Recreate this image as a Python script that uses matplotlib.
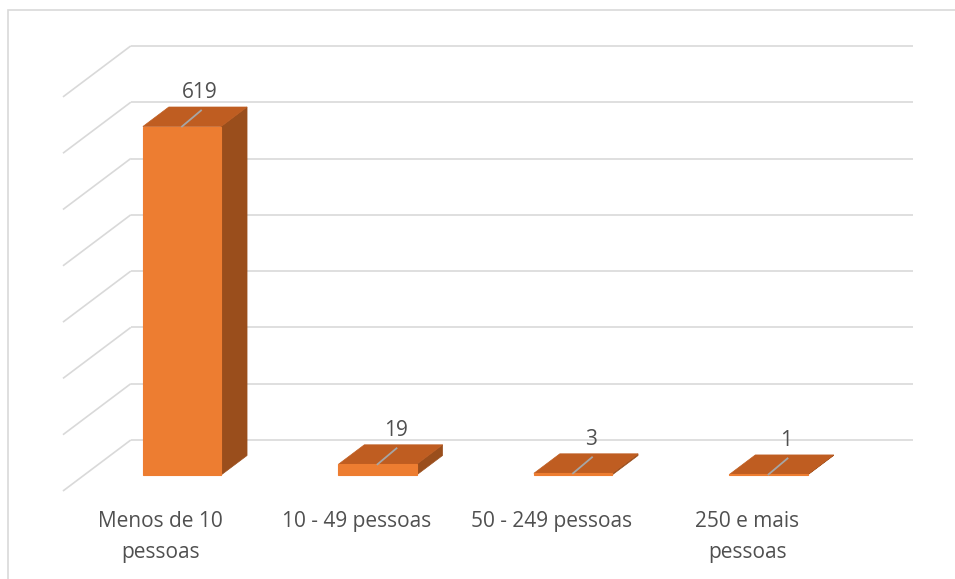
import matplotlib
matplotlib.use("Agg")
from matplotlib import pyplot as plt
from matplotlib.patches import Polygon, Rectangle

categories = ["Menos de 10\npessoas", "10 - 49 pessoas", "50 - 249 pessoas", "250 e mais\npessoas"]
values = [619, 19, 3, 1]
grid_values = [0, 100, 200, 300, 400, 500, 600, 700]

# colours
front_c = "#ED7D31"
top_c = "#BF5D21"
side_c = "#9A4E1C"
grid_c = "#D9D9D9"
text_c = "#505050"

# pixel layout of the fake 3d projection (figure is 955x579 px)
W, H = 955, 579
X0_PX, STEP_PX = 182.0, 195.5      # px of category 0, px per category
BASE_PX, PX_PER_UNIT = 475.0, 0.563  # px of value 0 on bar front plane
SLOPE = 1.33                        # dx/dy of depth direction in px


def depth(dy_px):
    """depth offset (dx in categories, dv in values) for dy_px pixels upwards"""
    return dy_px * SLOPE / STEP_PX, dy_px / PX_PER_UNIT


fig = plt.figure(figsize=(W / 100, H / 100), dpi=100)
ax = fig.add_axes([0, 0, 1, 1])
ax.set_xlim(-X0_PX / STEP_PX, (W - X0_PX) / STEP_PX)
ax.set_ylim((BASE_PX - H) / PX_PER_UNIT, BASE_PX / PX_PER_UNIT)
ax.axis("off")

# chart border (only top and left visible)
fig.patches.append(Rectangle((8 / W, -0.1), 1.2, 1 - 10 / H + 0.1, transform=fig.transFigure,
                             fill=False, edgecolor="#D9D9D9", lw=1.2))

# back wall gridlines and side wall diagonals
bx, bv = depth(35)
fx, fv = depth(-16)
left, right = -0.5, len(categories) - 0.5
for g in grid_values:
    ax.plot([left + bx, right + bx], [g + bv, g + bv], color=grid_c, lw=1.2, zorder=1,
            solid_capstyle="butt")
    ax.plot([left + fx, left + bx], [g + fv, g + bv], color=grid_c, lw=1.2, zorder=1,
            solid_capstyle="butt")

# bars
half = 0.2
ddx, ddv = depth(19.5)
lx, lv = depth(16)
for i, (cat, v) in enumerate(zip(categories, values)):
    x0, x1 = i - half, i + half
    front = [(x0, 0), (x1, 0), (x1, v), (x0, v)]
    top = [(x0, v), (x1, v), (x1 + ddx, v + ddv), (x0 + ddx, v + ddv)]
    side = [(x1, 0), (x1 + ddx, ddv), (x1 + ddx, v + ddv), (x1, v)]
    ax.add_patch(Polygon(side, closed=True, facecolor=side_c, edgecolor=side_c, lw=0.5, zorder=3))
    ax.add_patch(Polygon(top, closed=True, facecolor=top_c, edgecolor=top_c, lw=0.5, zorder=3))
    ax.add_patch(Polygon(front, closed=True, facecolor=front_c, edgecolor=front_c, lw=0.8, zorder=4))

    # leader line and data label
    ex = 19 / STEP_PX
    ax.plot([i, i + ex], [v, v + lv], color="#A6A6A6", lw=1.3, zorder=5)
    ax.text(i + 18 / STEP_PX, v + 34 / PX_PER_UNIT, str(v), ha="center", va="center",
            fontsize=15, color=text_c, family="Open Sans", zorder=6)

    # category label on the floor front
    ax.text(i + fx, -36 / PX_PER_UNIT, cat, ha="center", va="top", fontsize=15,
            color=text_c, family="Open Sans", linespacing=1.65, multialignment="center")

fig.savefig("out.png", dpi=100)
